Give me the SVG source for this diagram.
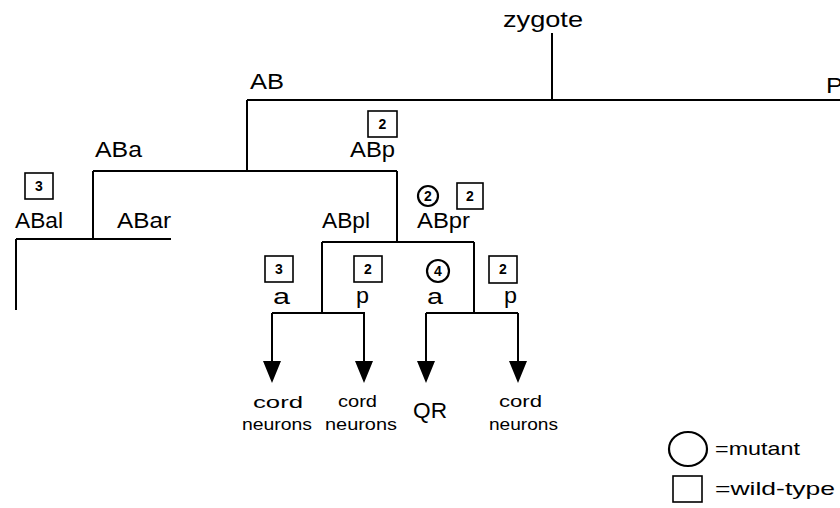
<svg xmlns="http://www.w3.org/2000/svg" width="840" height="508" viewBox="0 0 840 508">
<defs>
<style>
.lbl{font-family:"Liberation Sans",Arial,sans-serif;font-size:22px;fill:#000}
.sm{font-family:"Liberation Sans",Arial,sans-serif;font-size:16px;fill:#000}
.num{font-family:"Liberation Sans",Arial,sans-serif;font-size:14px;font-weight:bold;fill:#000;text-anchor:middle}
.box{fill:none;stroke:#000;stroke-width:1.6}
.circ{fill:none;stroke:#000;stroke-width:2.2}
.ln{fill:none;stroke:#000;stroke-width:2}
.leg{font-family:"Liberation Sans",Arial,sans-serif;font-size:19px;fill:#000}
</style>
</defs>
<rect width="840" height="508" fill="#fff"/>
<g id="connectors">
<path class="ln" d="M552,33 V100 M247,100 H840"/>
<path class="ln" d="M247,100 V171 M93,171 H397"/>
<path class="ln" d="M93,171 V239 M16,239 H171 M16,239 V310"/>
<path class="ln" d="M397,171 V242 M322,242 H474"/>
<path class="ln" d="M322,242 V313 M272,313 H365"/>
<path class="ln" d="M474,242 V313 M426,313 H518"/>
<path class="ln" d="M272,313 V361"/>
<path class="ln" d="M364,313 V361"/>
<path class="ln" d="M426,313 V361"/>
<path class="ln" d="M518,313 V361"/>
<path d="M263,361 H281 L272,383 Z M355,361 H373 L364,383 Z M417,361 H435 L426,383 Z M509,361 H527 L518,383 Z" fill="#000"/>
</g>
<g id="zygote"><text class="lbl" x="503" y="27" textLength="80" lengthAdjust="spacingAndGlyphs">zygote</text></g>
<g id="AB"><text class="lbl" x="250" y="89" textLength="34" lengthAdjust="spacingAndGlyphs">AB</text></g>
<g id="P"><text class="lbl" x="826" y="93" textLength="17" lengthAdjust="spacingAndGlyphs">P</text></g>
<g id="ABa"><text class="lbl" x="95" y="157" textLength="47" lengthAdjust="spacingAndGlyphs">ABa</text></g>
<g id="ABp">
<rect class="box" x="368" y="111" width="29" height="26"/>
<text class="num" x="382.5" y="129">2</text>
<text class="lbl" x="350" y="157" textLength="45" lengthAdjust="spacingAndGlyphs">ABp</text>
</g>
<g id="ABal">
<rect class="box" x="25" y="173" width="28" height="26"/>
<text class="num" x="39" y="191">3</text>
<text class="lbl" x="15" y="228" textLength="48" lengthAdjust="spacingAndGlyphs">ABal</text>
</g>
<g id="ABar"><text class="lbl" x="117" y="228" textLength="54" lengthAdjust="spacingAndGlyphs">ABar</text></g>
<g id="ABpl"><text class="lbl" x="322" y="228" textLength="48" lengthAdjust="spacingAndGlyphs">ABpl</text></g>
<g id="ABpr">
<circle class="circ" cx="428" cy="196" r="10"/>
<text class="num" x="428" y="201">2</text>
<rect class="box" x="457" y="183" width="26" height="26"/>
<text class="num" x="470" y="201">2</text>
<text class="lbl" x="417" y="228" textLength="53" lengthAdjust="spacingAndGlyphs">ABpr</text>
</g>
<g id="ABpla">
<rect class="box" x="265" y="256" width="28" height="26"/>
<text class="num" x="279" y="274">3</text>
<text class="lbl" x="273" y="304" textLength="17" lengthAdjust="spacingAndGlyphs">a</text>
</g>
<g id="ABplp">
<rect class="box" x="354" y="256" width="28" height="26"/>
<text class="num" x="368" y="274">2</text>
<text class="lbl" x="356" y="303" textLength="13" lengthAdjust="spacingAndGlyphs">p</text>
</g>
<g id="ABpra">
<circle class="circ" cx="438" cy="271" r="11"/>
<text class="num" x="438" y="276">4</text>
<text class="lbl" x="427" y="304" textLength="16" lengthAdjust="spacingAndGlyphs">a</text>
</g>
<g id="ABprp">
<rect class="box" x="489" y="256" width="28" height="27"/>
<text class="num" x="503" y="274">2</text>
<text class="lbl" x="504" y="303" textLength="13" lengthAdjust="spacingAndGlyphs">p</text>
</g>
<g id="cord1">
<text class="sm" x="253" y="408" textLength="50" lengthAdjust="spacingAndGlyphs">cord</text>
<text class="sm" x="242" y="430" textLength="70" lengthAdjust="spacingAndGlyphs">neurons</text>
</g>
<g id="cord2">
<text class="sm" x="338" y="407" textLength="39" lengthAdjust="spacingAndGlyphs">cord</text>
<text class="sm" x="325" y="430" textLength="72" lengthAdjust="spacingAndGlyphs">neurons</text>
</g>
<g id="QR"><text class="lbl" x="413" y="418" textLength="34" lengthAdjust="spacingAndGlyphs">QR</text></g>
<g id="cord3">
<text class="sm" x="499" y="407" textLength="43" lengthAdjust="spacingAndGlyphs">cord</text>
<text class="sm" x="489" y="430" textLength="69" lengthAdjust="spacingAndGlyphs">neurons</text>
</g>
<g id="legend">
<ellipse class="circ" cx="688" cy="449" rx="19" ry="17"/>
<text class="leg" x="715" y="455" textLength="85" lengthAdjust="spacingAndGlyphs">=mutant</text>
<rect class="box" x="673" y="476" width="29" height="26"/>
<text class="leg" x="715" y="495" textLength="120" lengthAdjust="spacingAndGlyphs">=wild-type</text>
</g>
</svg>
